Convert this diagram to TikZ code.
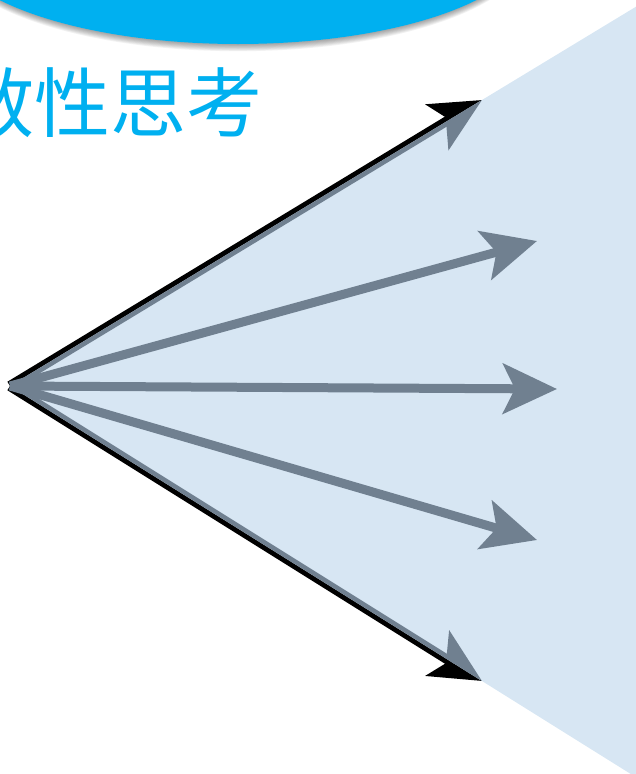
\documentclass[tikz,border=0pt]{standalone}
\usepackage{fontspec}
\newfontfamily\cjk{Noto Sans CJK SC}
\usetikzlibrary{arrows.meta,calc}
\definecolor{cyanblue}{RGB}{0,176,240}
\definecolor{fanblue}{RGB}{215,230,243}
\definecolor{slate}{RGB}{112,128,144}
\tikzset{
  blackarrow/.style={draw=black, line width=10, -{Stealth[length=50,width=50,inset=12]}},
  grayarrow/.style={draw=slate, line width=9, -{Stealth[length=54,width=50,inset=12]}},
  titletext/.style={text=cyanblue, font=\cjk\fontsize{76}{76}\selectfont, inner sep=0}
}
\begin{document}
\begin{tikzpicture}[x=1pt,y=-1pt]
\useasboundingbox (0,0) rectangle (636,774);
% blue banner with soft shadow
\foreach \i in {1,...,8}
  \fill[black, opacity=0.05] (238,{-60+\i*0.9}) ellipse [x radius=292, y radius=104];
\fill[cyanblue] (238,-60) ellipse [x radius=292, y radius=104];
% title
\node[titletext, anchor=east] (title) at (263,103) {散性思考};
% coordinates
\coordinate (O) at (10,386);
\coordinate (T1) at (482,100);
\coordinate (T5) at (482,681);
\coordinate (T2) at (537,241);
\coordinate (T3) at (557,389);
\coordinate (T4) at (537,540);
% black edge arrows
\draw[blackarrow] (O) -- (T1);
\draw[blackarrow] (O) -- (T5);
% fan
\fill[fanblue] (O) -- ($(O)!1.33!(T1)$) -- ($(O)!1.33!(T5)$) -- cycle;
\begin{scope}
  \clip (O) -- ($(O)!1.4!(T1)$) -- ($(O)!1.4!(T5)$) -- cycle;
  \draw[grayarrow] (O) -- (T1);
  \draw[grayarrow] (O) -- (T5);
\end{scope}
\draw[grayarrow] (O) -- (T2);
\draw[grayarrow] (O) -- (T3);
\draw[grayarrow] (O) -- (T4);
\end{tikzpicture}
\end{document}
